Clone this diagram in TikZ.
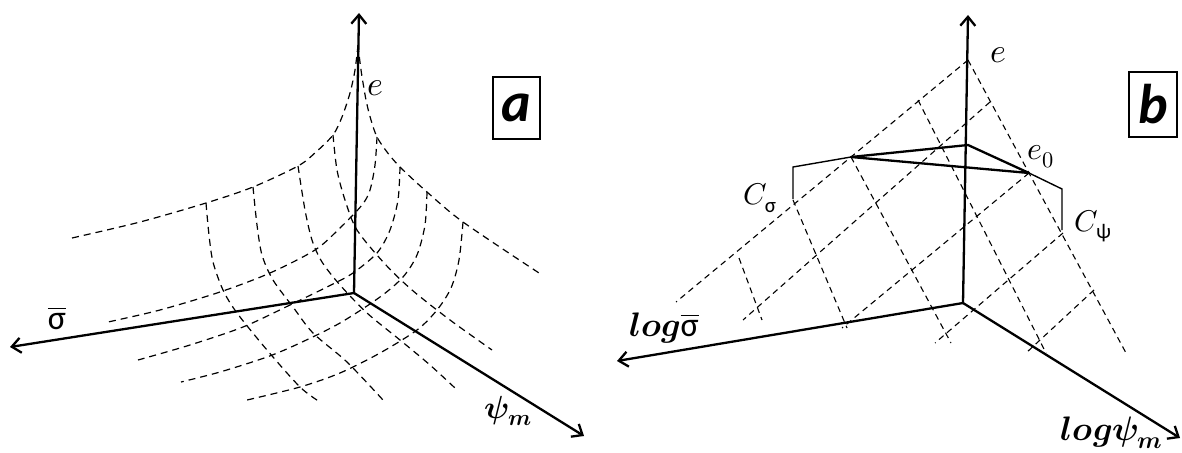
\documentclass[tikz,border=0pt]{standalone}
\usepackage{amsmath}
\usepackage{fontspec}
\usepackage{unicode-math}
\setmathfont{Latin Modern Math}
\newfontfamily\calib{Carlito}
\usetikzlibrary{arrows.meta}

\begin{document}
\begin{tikzpicture}[
    x=1pt, y=-1pt,
    axisline/.style={line width=2.3pt, -{Straight Barb[length=9pt,width=15pt]}},
    meshline/.style={line width=1.2pt, dash pattern=on 7pt off 5pt},
    planeline/.style={line width=1.1pt, dash pattern=on 6pt off 4.5pt},
    heavy/.style={line width=2.3pt, line join=round},
    bracket/.style={line width=1.4pt},
    lbl/.style={inner sep=0pt},
    tagbox/.style={draw, line width=1.8pt, minimum width=47pt, minimum height=62pt, inner sep=0pt, font=\calib\bfseries\itshape\fontsize{56}{60}\selectfont}
]
\useasboundingbox (0,0) rectangle (1182,452);
\clip (0,0) rectangle (1182,452);

% Panel a: origin and axis ends
\coordinate (oa) at (354,293);
\coordinate (ea) at (359,13);
\coordinate (sa) at (10,347);
\coordinate (pa) at (584,436);

% Curves of constant psi (run to the left)
\draw[meshline] plot[smooth] coordinates {(358,45) (355,70) (350,93) (342,117) (333,135) (316,152) (298,166) (253,187) (206,203) (140,222) (72,238)};
\draw[meshline] plot[smooth] coordinates {(377,137) (375,165) (370,190) (362,205) (340,228) (315,250) (270,273) (220,292) (160,310) (108,322)};
\draw[meshline] plot[smooth] coordinates {(400,167) (398,200) (390,230) (377,253) (353,273) (333,284) (290,305) (243,327) (190,345) (138,360)};
\draw[meshline] plot[smooth] coordinates {(427,192) (425,225) (417,255) (403,277) (380,297) (340,323) (300,343) (267,357) (220,372) (181,382)};
\draw[meshline] plot[smooth] coordinates {(463,222) (459,260) (451,288) (437,310) (417,330) (380,353) (340,373) (300,387) (247,400)};

% Curves of constant sigma (run to the right)
\draw[meshline] plot[smooth] coordinates {(358,45) (361,70) (366,100) (371,120) (377,137) (387,152) (400,167) (427,192) (463,222) (539,273)};
\draw[meshline] plot[smooth] coordinates {(333,135) (337,170) (345,200) (357,230) (385,264) (412,290) (450,320) (492,350)};
\draw[meshline] plot[smooth] coordinates {(298,166) (305,210) (312,240) (322,262) (340,285) (367,313) (400,340) (430,365) (455,388)};
\draw[meshline] plot[smooth] coordinates {(253,187) (257,225) (262,255) (273,280) (293,307) (313,333) (347,362) (383,400)};
\draw[meshline] plot[smooth] coordinates {(206,203) (209,235) (213,262) (223,290) (237,313) (267,350) (300,387) (320,402)};

% Axes a
\draw[axisline] (oa) -- (ea);
\draw[axisline] (oa) -- (sa);
\draw[axisline] (oa) -- (pa);

% Labels a
\node[lbl, font=\fontsize{34}{40}\selectfont] (ela) at (375,88) {$e$};
\node[lbl, font=\fontsize{34}{40}\selectfont] (sla) at (57,318) {$\overline{\text{\calib σ}}$};
\node[lbl, font=\fontsize{32}{38}\selectfont] (pla) at (508,411) {$\symbfit{\psi}_{\symbfit{m}}$};
\node[tagbox] (taga) at (516.5,108) {a};

% Panel b: origin and axis ends
\coordinate (ob) at (963,303);
\coordinate (eb) at (968,15);
\coordinate (sb) at (617,361);
\coordinate (pb) at (1180,438);
\coordinate (apex) at (968,60);

% Dashed plane: edges
\draw[planeline] (apex) -- (676,302);
\draw[planeline] (apex) -- (1126,353);
% lines parallel to the left edge
\foreach \xa/\ya/\xb/\yb in {990/102/743/320, 1029/173/842/328, 1063/233/935/343, 1094/290/1026/353}
  \draw[planeline] (\xa,\ya) -- (\xb,\yb);
% lines parallel to the right edge
\foreach \xa/\ya/\xb/\yb in {918/100/1046/353, 851/157/951/343, 793/200/847/328, 739/258/762/320}
  \draw[planeline] (\xa,\ya) -- (\xb,\yb);

% Solid triangle and brackets
\coordinate (ta) at (968,145);
\coordinate (tb) at (851,157);
\coordinate (tc) at (1029,173);
\draw[heavy] (tb) -- (ta) -- (tc) -- cycle;
\draw[bracket] (tb) -- (793,167) -- (793,199);
\draw[bracket] (tc) -- (1062,189) -- (1062,230);

% Axes b
\draw[axisline] (ob) -- (eb);
\draw[axisline] (ob) -- (sb);
\draw[axisline] (ob) -- (pb);

% Labels b
\node[lbl, font=\fontsize{34}{40}\selectfont] (elb) at (998,55) {$e$};
\node[lbl, font=\fontsize{32}{38}\selectfont] (e0) at (1041,157) {$e_0$};
\node[lbl, font=\fontsize{30}{36}\selectfont] (cs) at (760,198) {$C_{\text{\calib σ}}$};
\node[lbl, font=\fontsize{30}{36}\selectfont] (cp) at (1093,226) {$C_{\text{\calib ψ}}$};
\node[lbl, font=\fontsize{34}{40}\selectfont] (slb) at (664,328) {$\symbfit{log}\overline{\text{\calib σ}}$};
\node[lbl, font=\fontsize{34}{40}\selectfont] (plb) at (1112,433) {$\symbfit{log\psi}_{\symbfit{m}}$};
\node[tagbox, minimum height=65pt, minimum width=48pt] (tagb) at (1153,104.5) {b};

\end{tikzpicture}
\end{document}
